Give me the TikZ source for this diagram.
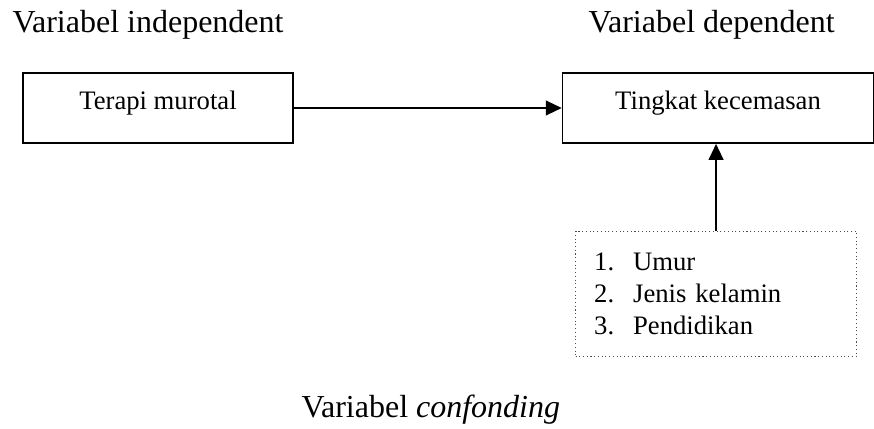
\documentclass[tikz,border=0pt]{standalone}
\usepackage{fontspec}
\setmainfont{Liberation Serif}
\usetikzlibrary{positioning, arrows.meta}

\begin{document}
\begin{tikzpicture}[
        x=0.375pt, y=-0.375pt,
        head/.style  = {anchor=base west, inner sep=0pt, font=\fontsize{12}{14}\selectfont},
        var/.style   = {draw, line width=0.6pt, rectangle, inner sep=0pt, minimum height=26.25pt,
                        text height=13.9pt, text depth=12.4pt, font=\fontsize{10}{12}\selectfont},
        conf/.style  = {draw=black!70, densely dotted, line width=0.4pt, rectangle, inner ysep=0pt,
                        inner xsep=7pt, text width=91.4pt, minimum height=46.9pt, align=left,
                        font=\fontsize{10}{12}\selectfont},
        arrow/.style = {-{Triangle[length=6pt, width=5.5pt]}, line width=0.75pt},
    ]
        \useasboundingbox (0,0) rectangle (874,429);

        %---- variables ----
        \node[var, minimum width=101.25pt] (murotal) at (158,108) {Terapi murotal};
        \node[var, minimum width=116.6pt, right=100.5pt of murotal] (cemas) {Tingkat kecemasan};
        \node[conf, below=32.6pt of cemas, xshift=-0.75pt] (faktor)
            {\makebox[14.6pt][l]{1.}Umur\\
             \makebox[14.6pt][l]{2.}Jenis kelamin\\
             \makebox[14.6pt][l]{3.}Pendidikan};
        \draw[arrow] (murotal) -- (cemas);
        \draw[arrow] (faktor.north) -- (faktor.north |- cemas.south);

        %---- headings ----
        \node[head] (hind) at (12,33) {Variabel independent};
        \node[head] (hdep) at (588,33) {Variabel dependent};
        \node[head] (hconf) at (301,418) {Variabel \textit{confonding}};
    \end{tikzpicture}
\end{document}
